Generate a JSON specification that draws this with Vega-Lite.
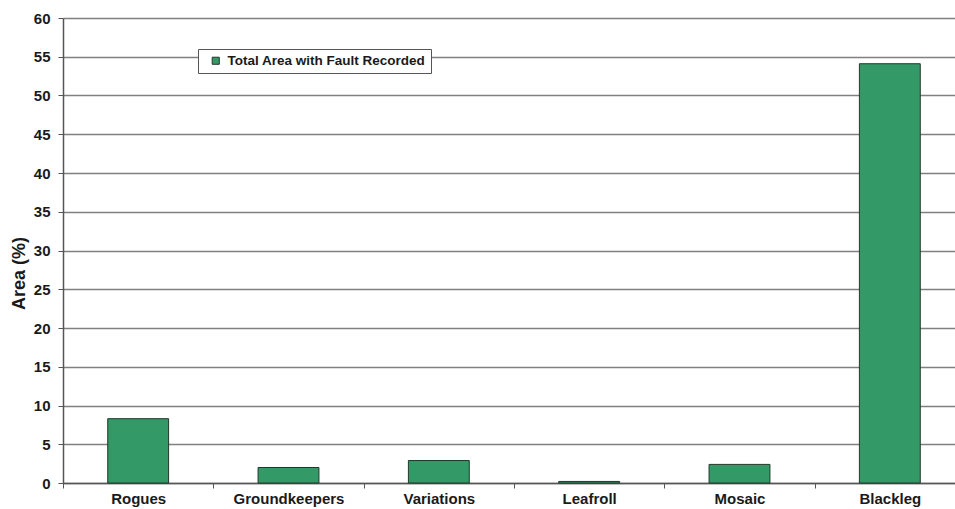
{
  "$schema": "https://vega.github.io/schema/vega-lite/v6.json",
  "width": 892,
  "height": 465,
  "autosize": {"type": "none"},
  "padding": {"left": 63, "top": 18, "right": 0, "bottom": 26},
  "background": "white",
  "config": {
    "view": {"stroke": null},
    "font": "Liberation Sans"
  },
  "data": {
    "values": [
      {"fault": "Rogues", "area": 8.3},
      {"fault": "Groundkeepers", "area": 2.0},
      {"fault": "Variations", "area": 2.9},
      {"fault": "Leafroll", "area": 0.2},
      {"fault": "Mosaic", "area": 2.4},
      {"fault": "Blackleg", "area": 54.1}
    ]
  },
  "mark": {
    "type": "bar",
    "width": {"band": 0.405},
    "stroke": "#1f3a2a",
    "strokeWidth": 1
  },
  "encoding": {
    "x": {
      "field": "fault",
      "type": "nominal",
      "sort": null,
      "scale": {"type": "band", "range": [0, 902], "paddingInner": 0, "paddingOuter": 0},
      "axis": {
        "title": null,
        "labelAngle": 0,
        "labelFont": "Liberation Sans",
        "labelFontWeight": "bold",
        "labelFontSize": 15,
        "labelColor": "#1a1a1a",
        "labelPadding": 3,
        "tickBand": "extent",
        "tickSize": 5,
        "tickColor": "#555555",
        "domainColor": "#555555",
        "domainWidth": 1.5,
        "grid": false
      }
    },
    "y": {
      "field": "area",
      "type": "quantitative",
      "scale": {"domain": [0, 60], "nice": false},
      "axis": {
        "title": "Area (%)",
        "values": [0, 5, 10, 15, 20, 25, 30, 35, 40, 45, 50, 55, 60],
        "labelFont": "Liberation Sans",
        "labelFontWeight": "bold",
        "labelFontSize": 15,
        "labelColor": "#1a1a1a",
        "labelPadding": 8,
        "tickSize": 5,
        "tickColor": "#555555",
        "domainColor": "#555555",
        "domainWidth": 1.5,
        "grid": true,
        "gridColor": "#808080",
        "gridWidth": 1.5,
        "titleFont": "Liberation Sans",
        "titleFontWeight": "bold",
        "titleFontSize": 18,
        "titleColor": "#1a1a1a",
        "titleAngle": -90,
        "titleAlign": "center",
        "titleBaseline": "middle",
        "titleX": -44,
        "titleY": 255
      }
    },
    "color": {
      "datum": "Total Area with Fault Recorded",
      "type": "nominal",
      "scale": {"range": ["#339966"]},
      "legend": {
        "title": null,
        "orient": "none",
        "legendX": 135,
        "legendY": 31,
        "direction": "vertical",
        "fillColor": "white",
        "strokeColor": "#555555",
        "padding": 5,
        "symbolOffset": 6,
        "symbolType": "square",
        "symbolSize": 50,
        "symbolStrokeColor": "#1f3a2a",
        "symbolStrokeWidth": 1,
        "labelFont": "Liberation Sans",
        "labelFontWeight": "bold",
        "labelFontSize": 13.5,
        "labelLimit": 400,
        "labelColor": "#1a1a1a",
        "labelOffset": 5
      }
    }
  }
}
